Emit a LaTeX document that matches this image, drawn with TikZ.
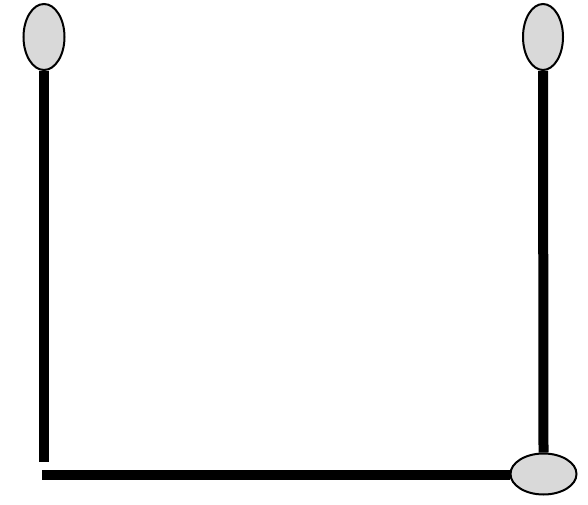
\documentclass[tikz,border=0pt]{standalone}
\usepackage{tikz}
\usetikzlibrary{shapes.geometric}
\definecolor{knobgray}{RGB}{217,217,217}
\tikzset{
  knob/.style = {ellipse, draw = black, line width = 2pt, fill = knobgray, inner sep = 0pt},
  rod/.style = {line width = 10pt, black}
}
\begin{document}
\begin{tikzpicture}[x = 1pt, y = -1pt]
    {
    \useasboundingbox (0,0) rectangle (588,505);
    \node[knob, minimum width = 41pt, minimum height = 66pt](leftKnob) at (44,37) {};
    \node[knob, minimum width = 40pt, minimum height = 66pt](rightKnob) at (543,37) {};
    \node[knob, minimum width = 66pt, minimum height = 41pt](cornerKnob) at (543.5,474) {};
    \coordinate (leftEnd) at (44.5,462);
    \coordinate (bottomEnd) at (42,475);

    \draw [rod] (leftKnob.south) -- (leftKnob.south |- leftEnd);
    \draw [rod] (rightKnob.south) -- (cornerKnob.north);
    \draw [rod] (bottomEnd) -- (bottomEnd -| cornerKnob.west);
    }
\end{tikzpicture}
\end{document}
